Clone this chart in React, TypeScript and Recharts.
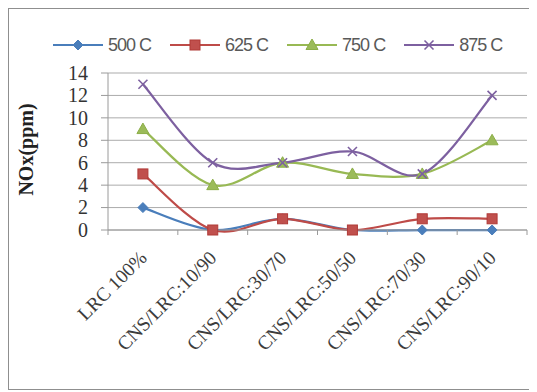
import React from 'react';
import { LineChart, Line, XAxis, YAxis, CartesianGrid, Label } from 'recharts';

const categories = ['LRC 100%', 'CNS/LRC:10/90', 'CNS/LRC:30/70', 'CNS/LRC:50/50', 'CNS/LRC:70/30', 'CNS/LRC:90/10'];
const seriesNames = ['500 C', '625 C', '750 C', '875 C'];
const s500 = [2, 0, 1, 0, 0, 0];
const s625 = [5, 0, 1, 0, 1, 1];
const s750 = [9, 4, 6, 5, 5, 8];
const s875 = [13, 6, 6, 7, 5, 12];
const yTicks = [0, 2, 4, 6, 8, 10, 12, 14];

const seriesValues = [s500, s625, s750, s875];
const keys = ['s500', 's625', 's750', 's875'];
const colors = ['#4A7EBB', '#BE4B48', '#98B954', '#7D60A0'];
const markers = ['diamond', 'square', 'triangle', 'x'];

const data = categories.map((c, i) => {
  const row: any = { cat: c };
  keys.forEach((k, j) => (row[k] = seriesValues[j][i]));
  return row;
});

const W = 525;
const H = 380;
const M = { top: 64, right: 7, bottom: 158, left: 0 };
const YW = 99;
const BAND = (W - M.right - M.left - YW) / categories.length;
const SERIF = "'Liberation Serif', 'Times New Roman', serif";

function excelSmooth(context: any) {
  let xs: number[] = [];
  let ys: number[] = [];
  return {
    areaStart() {},
    areaEnd() {},
    lineStart() {
      xs = [];
      ys = [];
    },
    point(x: number, y: number) {
      xs.push(+x);
      ys.push(+y);
    },
    lineEnd() {
      const n = xs.length;
      if (!n) return;
      context.moveTo(xs[0], ys[0]);
      for (let i = 0; i < n - 1; i++) {
        const a = Math.max(i - 1, 0);
        const d = Math.min(i + 2, n - 1);
        context.bezierCurveTo(
          xs[i] + (xs[i + 1] - xs[a]) / 6,
          ys[i] + (ys[i + 1] - ys[a]) / 6,
          xs[i + 1] - (xs[d] - xs[i]) / 6,
          ys[i + 1] - (ys[d] - ys[i]) / 6,
          xs[i + 1],
          ys[i + 1]
        );
      }
    },
  };
}

function Marker({ kind, cx, cy, color }: { kind: string; cx: number; cy: number; color: string }) {
  if (kind === 'diamond') {
    const r = 5;
    return <polygon points={`${cx},${cy - r} ${cx + r},${cy} ${cx},${cy + r} ${cx - r},${cy}`} fill={color} stroke={color} strokeWidth={1} />;
  }
  if (kind === 'square') {
    const r = 5;
    return <rect x={cx - r} y={cy - r} width={2 * r} height={2 * r} fill="#C0504D" stroke="#B03A37" strokeWidth={1} />;
  }
  if (kind === 'triangle') {
    const r = 6;
    return <polygon points={`${cx},${cy - r} ${cx + r},${cy + r * 0.75} ${cx - r},${cy + r * 0.75}`} fill="#9BBB59" stroke="#8CAE48" strokeWidth={1} />;
  }
  const r = 4.5;
  return (
    <g stroke={color} strokeWidth={1.6}>
      <line x1={cx - r} y1={cy - r} x2={cx + r} y2={cy + r} />
      <line x1={cx - r} y1={cy + r} x2={cx + r} y2={cy - r} />
    </g>
  );
}

const makeDot = (idx: number) => (props: any) => {
  const { cx, cy, index } = props;
  if (cx == null || cy == null) return <g key={`d${idx}-${index}`} />;
  return (
    <g key={`d${idx}-${index}`}>
      <Marker kind={markers[idx]} cx={cx} cy={cy} color={colors[idx]} />
    </g>
  );
};

const XTick = (props: any) => {
  const { x, y, payload, index } = props;
  const last = index === categories.length - 1;
  return (
    <g>
      <line x1={x - BAND / 2} y1={y} x2={x - BAND / 2} y2={y + 5} stroke="#9a9a9a" />
      {last && <line x1={x + BAND / 2} y1={y} x2={x + BAND / 2} y2={y + 5} stroke="#9a9a9a" />}
      <text
        x={x + 5}
        y={y + 29}
        transform={`rotate(-45 ${x + 5} ${y + 29})`}
        textAnchor="end"
        fontFamily={SERIF}
        fontSize={19.5}
        fill="#3c3c3c"
      >
        {payload.value}
      </text>
    </g>
  );
};

const YTick = (props: any) => {
  const { x, y, payload } = props;
  return (
    <text x={x} y={y} dy="0.34em" textAnchor="end" fontFamily={SERIF} fontSize={20} fill="#333">
      {payload.value}
    </text>
  );
};

const YLabel = (props: any) => {
  const vb = props.viewBox || { x: 0, y: 0, width: 0, height: 0 };
  const cx = 17;
  const cy = vb.y + vb.height / 2 - 2;
  return (
    <text
      x={cx}
      y={cy}
      transform={`rotate(-90 ${cx} ${cy})`}
      textAnchor="middle"
      dominantBaseline="central"
      fontFamily={SERIF}
      fontWeight="bold"
      fontSize={20}
      fill="#222"
    >
      NOx(ppm)
    </text>
  );
};

function LegendOverlay() {
  return (
    <div
      style={{
        position: 'absolute',
        left: 44,
        top: 27,
        display: 'flex',
        alignItems: 'center',
        fontFamily: "'Liberation Sans', Arial, sans-serif",
        fontSize: 18,
        letterSpacing: -1,
        color: '#595959',
        whiteSpace: 'nowrap',
      }}
    >
      {seriesNames.map((n, i) => (
        <div key={n} style={{ display: 'flex', alignItems: 'center', marginRight: 19 }}>
          <svg width={50} height={18} style={{ display: 'block' }}>
            <line x1={0} y1={9} x2={50} y2={9} stroke={colors[i]} strokeWidth={2} />
            <Marker kind={markers[i]} cx={25} cy={9} color={colors[i]} />
          </svg>
          <span style={{ marginLeft: 5, lineHeight: '18px' }}>{n}</span>
        </div>
      ))}
    </div>
  );
}

export default function App() {
  return (
    <div
      style={{
        position: 'relative',
        width: W + 2,
        height: H + 2,
        border: '1px solid #8f8f8f',
        boxSizing: 'border-box',
        background: '#fff',
      }}
    >
      <LineChart width={W} height={H} data={data} margin={M}>
        <CartesianGrid vertical={false} stroke="#ababab" strokeWidth={1} />
        <XAxis
          dataKey="cat"
          interval={0}
          height={1}
          tickSize={0}
          tickMargin={0}
          tickLine={false}
          padding={{ left: BAND / 2, right: BAND / 2 }}
          axisLine={{ stroke: '#9a9a9a' }}
          tick={<XTick />}
        />
        <YAxis
          width={YW}
          domain={[0, 14]}
          ticks={yTicks}
          interval={0}
          tickSize={7}
          tickMargin={13}
          axisLine={{ stroke: '#9a9a9a' }}
          tickLine={{ stroke: '#9a9a9a' }}
          tick={<YTick />}
        >
          <Label content={<YLabel />} />
        </YAxis>
        {keys.map((k, i) => (
          <Line
            key={k}
            dataKey={k}
            type={excelSmooth as any}
            stroke={colors[i]}
            strokeWidth={2.25}
            dot={makeDot(i)}
            activeDot={false}
            isAnimationActive={false}
          />
        ))}
      </LineChart>
      <LegendOverlay />
    </div>
  );
}
